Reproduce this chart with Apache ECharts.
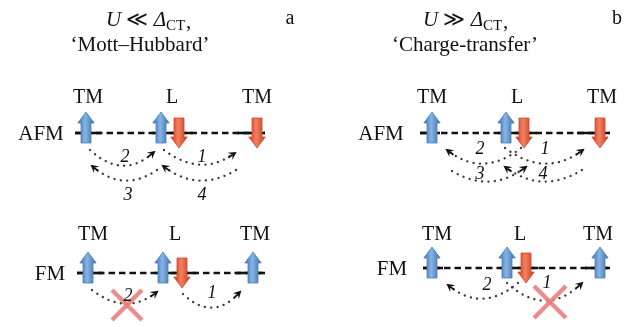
<!DOCTYPE html>
<html><head><meta charset="utf-8">
<script src="https://cdn.jsdelivr.net/npm/echarts@6/dist/echarts.min.js"></script>
<style>html,body{margin:0;padding:0;background:#fff}#c{width:631px;height:327px}</style>
</head><body><div id="c"></div>
<script>
const FONT = '"Liberation Serif","DejaVu Serif",serif';

// ---------- texts ----------
const headMain = ['{i|U} ≪ {i|Δ}', '{i|U} ≫ {i|Δ}'];
const headSub = 'CT';
const headNames = ['‘Mott–Hubbard’', '‘Charge-transfer’'];
const panelLetters = ['a', 'b'];
const siteNames = ['TM', 'L', 'TM'];
const orderNames = ['AFM', 'FM', 'AFM', 'FM'];
const hopNumbers = ['2', '1', '3', '4', '2', '1', '2', '1', '3', '4', '2', '1'];

// ---------- diagram coordinates ----------
const headX = [166, 483];
const headY = [20, 20];
const nameX = [140, 465];
const nameY = [45, 45];
const letterX = [290, 617];
const letterY = [19, 19];

const rowY = [133, 273, 133, 268];
const rowLabelX = [41, 50, 381, 392];
const rowStart = [75, 77, 420, 423];
const rowEnd = [265, 265, 610, 610];
const siteLabelX = [[88, 172, 257], [93, 175, 255], [432, 517, 602], [437, 520, 598]];
const siteLabelY = [98, 235, 98, 235];

const solidSegs = [
  [75, 101, 133], [152, 193, 133], [237, 265, 133],
  [77, 103, 273], [155, 196, 273], [236, 265, 273],
  [420, 440, 133], [498, 537, 133], [577, 610, 133],
  [423, 443, 268], [500, 538, 268], [585, 610, 268]
];

// spins: x, y, direction (1 up, -1 down)
const spins = [
  [86, 133, 1], [161, 133, 1], [179, 133, -1], [257, 133, -1],
  [88, 273, 1], [163, 273, 1], [182, 273, -1], [253, 273, 1],
  [432, 133, 1], [506, 133, 1], [524, 133, -1], [600, 133, -1],
  [432, 268, 1], [507, 268, 1], [526, 268, -1], [600, 268, 1]
];

// hops: x0, y0, x1, y1, lowest y
const hops = [
  [90, 150, 154, 152, 165],
  [164, 150, 235, 153, 164],
  [157, 170, 92, 166, 180],
  [236, 170, 163, 166, 180],
  [92, 290, 157, 292, 303],
  [183, 294, 240, 292, 307],
  [521, 148, 447, 150, 163],
  [505, 148, 583, 150, 163],
  [452, 171, 526, 167, 181],
  [582, 170, 505, 167, 181],
  [518, 283, 448, 285, 298],
  [507, 283, 582, 283, 300]
];
const hopLabelX = [125, 202, 128, 202, 128, 212, 480, 545, 480, 543, 487, 547];
const hopLabelY = [157, 157, 195, 195, 296, 293, 149, 149, 174, 174, 285, 283];

// forbidden marks: x, y, half size
const crosses = [[127, 305, 15], [550, 302, 16]];

// ---------- rendering ----------
const chart = echarts.init(document.getElementById('c'), null, {renderer: 'canvas'});

const blueFill = new echarts.graphic.LinearGradient(0, 0, 1, 0, [
  {offset: 0, color: '#3b6ca4'}, {offset: 0.45, color: '#85b4e6'}, {offset: 1, color: '#3d6b9e'}]);
const redFill = new echarts.graphic.LinearGradient(0, 0, 1, 0, [
  {offset: 0, color: '#c8361c'}, {offset: 0.45, color: '#f4805f'}, {offset: 1, color: '#c4371e'}]);

function textEl(p, text, size, opts) {
  return Object.assign({
    type: 'text', x: p[0], y: p[1],
    style: Object.assign({text: text, fontFamily: FONT, fontSize: size, fill: '#111',
      align: 'center', verticalAlign: 'middle'}, opts || {})
  });
}

const textItems = [];
for (let i = 0; i < 2; i++) {
  textItems.push({kind: 'main', i: i, v: [headX[i], headY[i]]});
  textItems.push({kind: 'sub', i: i, v: [headX[i], headY[i] + 6]});
  textItems.push({kind: 'comma', i: i, v: [headX[i] + 20, headY[i] + 2]});
  textItems.push({kind: 'name', i: i, v: [nameX[i], nameY[i]]});
  textItems.push({kind: 'letter', i: i, v: [letterX[i], letterY[i]]});
}
for (let r = 0; r < 4; r++) {
  textItems.push({kind: 'row', i: r, v: [rowLabelX[r], rowY[r] + 1]});
  for (let s = 0; s < 3; s++) textItems.push({kind: 'site', i: s, v: [siteLabelX[r][s], siteLabelY[r]]});
}
for (let h = 0; h < hopNumbers.length; h++) textItems.push({kind: 'num', i: h, v: [hopLabelX[h], hopLabelY[h]]});

const option = {
  animation: false,
  grid: {left: 0, right: 0, top: 0, bottom: 0},
  xAxis: {type: 'value', min: 0, max: 631, show: false},
  yAxis: {type: 'value', min: 0, max: 327, inverse: true, show: false},
  series: [
    { // dashed chain
      type: 'custom', silent: true,
      data: rowY.map((y, r) => [rowStart[r], rowEnd[r], y]),
      renderItem: (params, api) => {
        const a = api.coord([api.value(0), api.value(2)]);
        const b = api.coord([api.value(1), api.value(2)]);
        return {type: 'line', shape: {x1: a[0], y1: a[1], x2: b[0], y2: b[1]},
          style: {stroke: '#111', lineWidth: 2.6, lineDash: [6.5, 4]}};
      }
    },
    { // solid parts of chain
      type: 'custom', silent: true,
      data: solidSegs,
      renderItem: (params, api) => {
        const a = api.coord([api.value(0), api.value(2)]);
        const b = api.coord([api.value(1), api.value(2)]);
        return {type: 'line', shape: {x1: a[0], y1: a[1], x2: b[0], y2: b[1]},
          style: {stroke: '#111', lineWidth: 2.6}};
      }
    },
    { // spins
      type: 'custom', silent: true,
      data: spins,
      renderItem: (params, api) => {
        const c = api.coord([api.value(0), api.value(1)]);
        const up = api.value(2) > 0;
        const x = c[0], y = c[1];
        const hw = 8.2, sw = 5;
        let pts;
        if (up) pts = [[x, y - 21], [x + hw, y - 10], [x + sw, y - 10], [x + sw, y + 10], [x - sw, y + 10], [x - sw, y - 10], [x - hw, y - 10]];
        else pts = [[x, y + 15], [x + hw, y + 4], [x + sw, y + 4], [x + sw, y - 15], [x - sw, y - 15], [x - sw, y + 4], [x - hw, y + 4]];
        return {type: 'polygon', shape: {points: pts},
          style: {fill: up ? blueFill : redFill, stroke: up ? '#4a7fb8' : '#d2482c', lineWidth: 0.8, lineJoin: 'round'}};
      }
    },
    { // hopping arcs
      type: 'custom', silent: true,
      data: hops,
      renderItem: (params, api) => {
        const p0 = api.coord([api.value(0), api.value(1)]);
        const p1 = api.coord([api.value(2), api.value(3)]);
        const sag = api.coord([0, api.value(4)])[1];
        const cx = (p0[0] + p1[0]) / 2, cy = 2 * sag - (p0[1] + p1[1]) / 2;
        let dx = p1[0] - cx, dy = p1[1] - cy;
        const L = Math.hypot(dx, dy); dx /= L; dy /= L;
        const nx = -dy, ny = dx;
        const tip = [p1[0] + dx * 2, p1[1] + dy * 2];
        const back = [tip[0] - dx * 8, tip[1] - dy * 8];
        const notch = [tip[0] - dx * 5, tip[1] - dy * 5];
        return {type: 'group', children: [
          {type: 'bezierCurve', shape: {x1: p0[0], y1: p0[1], x2: p1[0] - dx * 4, y2: p1[1] - dy * 4, cpx1: cx, cpy1: cy},
            style: {stroke: '#3a3a3a', fill: null, lineWidth: 2.3, lineDash: [0.1, 6.3], lineCap: 'round'}},
          {type: 'polygon', shape: {points: [tip, [back[0] + nx * 4.2, back[1] + ny * 4.2], notch, [back[0] - nx * 4.2, back[1] - ny * 4.2]]},
            style: {fill: '#111'}},
          {type: 'line', shape: {x1: notch[0], y1: notch[1], x2: tip[0] - dx * 10, y2: tip[1] - dy * 10},
            style: {stroke: '#111', lineWidth: 1.8}}
        ]};
      }
    },
    { // crosses
      type: 'custom', silent: true,
      data: crosses,
      renderItem: (params, api) => {
        const c = api.coord([api.value(0), api.value(1)]);
        const s = api.value(2);
        const st = {stroke: '#e8807c', lineWidth: 4.5, opacity: 0.9};
        return {type: 'group', children: [
          {type: 'line', shape: {x1: c[0] - s, y1: c[1] - s, x2: c[0] + s, y2: c[1] + s}, style: st},
          {type: 'line', shape: {x1: c[0] + s, y1: c[1] - s, x2: c[0] - s, y2: c[1] + s}, style: st}
        ]};
      }
    },
    { // texts
      type: 'custom', silent: true,
      data: textItems.map(t => t.v),
      renderItem: (params, api) => {
        const t = textItems[params.dataIndex];
        const p = api.coord([api.value(0), api.value(1)]);
        switch (t.kind) {
          case 'main':
            return textEl(p, headMain[t.i], 21, {align: 'right',
              rich: {i: {fontFamily: FONT, fontSize: 21, fontStyle: 'italic', fill: '#111'}}});
          case 'sub': return textEl(p, headSub, 15, {align: 'left'});
          case 'comma': return textEl(p, ',', 21, {align: 'left'});
          case 'name': return textEl(p, headNames[t.i], 21);
          case 'letter': return textEl(p, panelLetters[t.i], 20);
          case 'row': return textEl(p, orderNames[t.i], 21);
          case 'site': return textEl(p, siteNames[t.i], 20);
          case 'num': return textEl(p, hopNumbers[t.i], 18, {fontStyle: 'italic'});
        }
      }
    }
  ]
};
chart.setOption(option);
</script>
</body></html>
